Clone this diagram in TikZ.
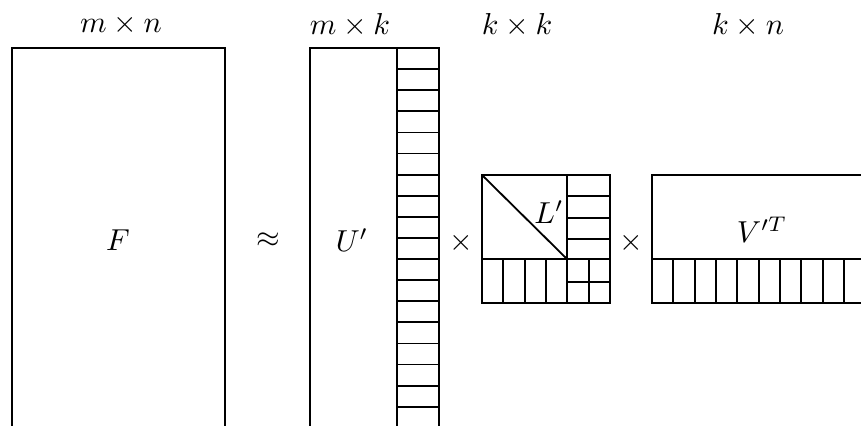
\documentclass[tikz,border=0pt]{standalone}
\usetikzlibrary{positioning}
\tikzset{
  mat/.style={draw=black,semithick},
  cell/.style={draw=black,semithick},
  dimlabel/.style={font=\normalsize,inner sep=1pt},
  op/.style={font=\normalsize,inner sep=1pt},
}
\def\cellw{21.33}
\begin{document}
\begin{tikzpicture}[x=0.33pt,y=-0.33pt]
  \useasboundingbox (0,0) rectangle (861,425);
  \clip (0,0) rectangle (861,425);
  % F
  \draw[mat] (12,440) -- (12,48) -- (225,48) -- (225,440);
  \node (F) at (118,240) {$F$};
  \node[dimlabel] (dimF) at (121,25) {$m \times n$};
  \node[op] (approx) at (268,240) {$\approx$};
  % U'
  \draw[mat] (310,440) -- (310,48) -- (439,48) -- (439,440);
  \draw[cell] (397,48) -- (397,440);
  \foreach \i in {1,...,18}
    \draw[cell] (397,{48+21.1*\i}) -- (439,{48+21.1*\i});
  \node (U) at (352,240) {$U'$};
  \node[dimlabel] (dimU) at (350,25) {$m \times k$};
  \node[op] (times1) at (461,243) {$\times$};
  % L'
  \draw[mat] (482,175) rectangle (610,303);
  \draw[cell] (567,175) -- (567,303);
  \draw[cell] (482,259) -- (610,259);
  \draw[cell] (482,175) -- (567,259);
  \foreach \i in {1,2,3,5} {
    \draw[cell] (567,{175+\cellw*\i}) -- (610,{175+\cellw*\i});
    \draw[cell] ({482+\cellw*\i},259) -- ({482+\cellw*\i},303);
  }
  \node (L) at (549,212) {$L'$};
  \node[dimlabel] (dimL) at (517,25) {$k \times k$};
  \node[op] (times2) at (631,243) {$\times$};
  % V'^T
  \draw[mat] (880,175) -- (652,175) -- (652,303) -- (880,303);
  \draw[cell] (652,259) -- (880,259);
  \foreach \i in {1,...,10}
    \draw[cell] ({652+\cellw*\i},259) -- ({652+\cellw*\i},303);
  \node (V) at (762,230) {$V'^T$};
  \node[dimlabel] (dimV) at (748,25) {$k \times n$};
\end{tikzpicture}
\end{document}
